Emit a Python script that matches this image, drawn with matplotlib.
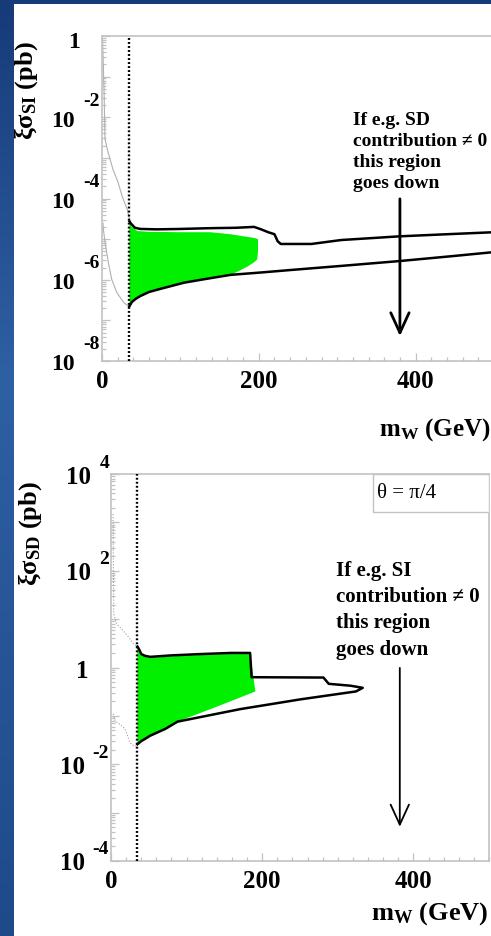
import numpy as np
import matplotlib
matplotlib.use("Agg")
import matplotlib.pyplot as plt
from matplotlib.patches import Rectangle
from matplotlib.ticker import LogLocator, MultipleLocator, NullFormatter

plt.rcParams['font.family'] = ['Liberation Serif', 'DejaVu Serif']
plt.rcParams['font.weight'] = 'bold'
plt.rcParams['axes.labelweight'] = 'bold'
plt.rcParams['mathtext.fontset'] = 'custom'
plt.rcParams['mathtext.rm'] = 'Liberation Serif:bold'
plt.rcParams['mathtext.bf'] = 'Liberation Serif:bold'
plt.rcParams['mathtext.it'] = 'Liberation Serif:italic:bold'

# ---- spin-independent panel (xi*sigma_SI in pb vs m_W in GeV) ----
si_upper_m = [35, 37, 42, 49, 70, 100, 138, 170, 194, 203, 212, 220, 224, 228, 267, 305, 379, 440, 500]
si_upper_pb = [2.75e-5, 2.4e-5, 1.9e-5, 1.78e-5, 1.74e-5, 1.78e-5, 1.86e-5, 1.9e-5, 2.0e-5, 1.74e-5,
               1.48e-5, 1.32e-5, 8.9e-6, 7.6e-6, 7.6e-6, 9.5e-6, 1.17e-5, 1.32e-5, 1.48e-5]
si_lower_m = [35, 38, 43, 49, 60, 75, 87, 105, 129, 164, 203, 241, 305, 379, 446, 500]
si_lower_pb = [2.24e-7, 2.82e-7, 3.39e-7, 3.98e-7, 5.0e-7, 6.0e-7, 6.9e-7, 8.5e-7, 1.02e-6, 1.32e-6,
               1.51e-6, 1.74e-6, 2.19e-6, 2.88e-6, 3.8e-6, 4.8e-6]
# green region: top edge and right edge, closed along the lower curve
si_green_m = [35, 38, 45, 60, 100, 138, 164, 181, 194, 199, 199, 198, 194, 186, 175, 164]
si_green_pb = [2.5e-5, 2.0e-5, 1.58e-5, 1.51e-5, 1.48e-5, 1.48e-5, 1.32e-5, 1.17e-5, 1.07e-5, 1.0e-5,
               5.0e-6, 3.16e-6, 2.69e-6, 2.14e-6, 1.66e-6, 1.32e-6]
# continuation below the cut (thin gray)
si_gray_up_m = [0.6, 2.6, 3.8, 7.7, 14, 20.5, 25.6, 32, 35]
si_gray_up_pb = [0.85, 0.05, 2.9e-3, 1.38e-3, 5.2e-4, 2.5e-4, 1.15e-4, 5.5e-5, 3.16e-5]
si_gray_lo_m = [1.2, 1.7, 3.8, 8, 12.4, 18.8, 27.3, 33.7, 35]
si_gray_lo_pb = [2.5e-5, 1.78e-5, 8.5e-6, 2.7e-6, 1.02e-6, 4.9e-7, 2.8e-7, 2.24e-7, 2.24e-7]

# ---- spin-dependent panel ----
sd_upper_m = [35, 37, 40, 45, 52, 80, 120, 160, 184, 186, 281, 288, 317, 333]
sd_upper_pb = [2.7, 2.4, 1.9, 1.74, 1.66, 1.78, 1.9, 2.0, 2.0, 0.63, 0.62, 0.46, 0.42, 0.38]
sd_lower_m = [333, 324, 251, 171, 88, 72, 52, 40, 35]
sd_lower_pb = [0.38, 0.32, 0.22, 0.138, 0.076, 0.054, 0.039, 0.030, 0.026]
sd_green_m = [35, 37, 40, 45, 52, 80, 120, 160, 184, 191, 140, 88, 72, 52, 40, 35]
sd_green_pb = [2.5, 2.3, 1.86, 1.66, 1.58, 1.7, 1.82, 1.9, 1.9, 0.32, 0.155, 0.076, 0.054, 0.039, 0.030, 0.026]
sd_gray_up_m = [2.7, 3.3, 3.6, 7.5, 14, 23, 29.6, 35]
sd_gray_up_pb = [1480, 68, 12.9, 7.9, 6.3, 4.3, 3.1, 2.7]
sd_gray_lo_m = [3, 5.3, 12, 18.6, 25, 30, 35]
sd_gray_lo_pb = [0.11, 0.079, 0.066, 0.054, 0.028, 0.024, 0.024]

m_cut = 35
si_exps = [0, -2, -4, -6, -8]
sd_exps = [4, 2, 0, -2, -4]

GRAY = '#c2c2c2'
GREEN = '#00f000'

W, H = 491, 937
fig = plt.figure(figsize=(W / 100, H / 100), dpi=100)

# slide background: blue gradient with a white sheet on top
rows = np.linspace(0, 1, H)[:, None]
top_c = np.array([0x17, 0x3a, 0x78]) / 255
mid_c = np.array([0x2e, 0x60, 0xa4]) / 255
bot_c = np.array([0x1e, 0x4a, 0x8a]) / 255
grad = np.where(rows < 0.4, top_c + (mid_c - top_c) * rows / 0.4,
                mid_c + (bot_c - mid_c) * (rows - 0.4) / 0.6)
bg = np.repeat(grad[:, None, :], W, axis=1)
fig.figimage(bg, 0, 0, zorder=-2, origin='upper')
fig.add_artist(Rectangle((14 / W, 0), 1 - 14 / W, (H - 5) / H, transform=fig.transFigure,
                         facecolor='white', edgecolor='none', zorder=-1))

ax1 = fig.add_axes([102 / W, 1 - 362 / H, 392 / W, 325 / H])
ax2 = fig.add_axes([111 / W, 1 - 862 / H, 378 / W, 387 / H])


def style_axes(ax, ylim):
    ax.set_yscale('log')
    ax.set_xlim(0, 500)
    ax.set_ylim(*ylim)
    ax.set_facecolor('white')
    for s in ax.spines.values():
        s.set_color(GRAY)
        s.set_linewidth(1.2)
    ax.xaxis.set_major_locator(MultipleLocator(200))
    ax.xaxis.set_minor_locator(MultipleLocator(20))
    ax.yaxis.set_major_locator(LogLocator(base=10, numticks=20))
    ax.yaxis.set_minor_locator(LogLocator(base=10, subs=np.arange(2, 10), numticks=20))
    ax.yaxis.set_major_formatter(NullFormatter())
    ax.yaxis.set_minor_formatter(NullFormatter())
    ax.tick_params(which='both', direction='in', color=GRAY, width=0.9, top=False, right=False)
    ax.tick_params(which='major', length=6)
    ax.tick_params(which='minor', length=3)
    ax.tick_params(axis='x', labelsize=18, pad=6)


def log_labels(ax, exps, one_off, exp_dy, ten_dy, gap, ten_size, exp_size):
    for e in exps:
        if e == 0:
            ax.annotate('1', xy=(0, 1.0), xycoords=('axes fraction', 'data'), xytext=one_off,
                        textcoords='offset pixels', ha='right', va='center', fontsize=ten_size,
                        annotation_clip=False)
            continue
        t = ax.annotate(str(e), xy=(0, 10.0 ** e), xycoords=('axes fraction', 'data'),
                        xytext=(-2, exp_dy), textcoords='offset pixels', ha='right', va='center',
                        fontsize=exp_size, annotation_clip=False)
        ax.annotate('10', xy=(0, 0.5), xycoords=t, xytext=(-gap, ten_dy - exp_dy),
                    textcoords='offset pixels', ha='right', va='center', fontsize=ten_size,
                    annotation_clip=False)


# ---------------- top panel ----------------
style_axes(ax1, (1e-8, 1))
ax1.plot(si_gray_up_m, si_gray_up_pb, color='#b0b0b0', lw=0.8)
ax1.plot(si_gray_lo_m, si_gray_lo_pb, color='#b0b0b0', lw=0.8)
low_back = [(m, v) for m, v in zip(si_lower_m, si_lower_pb) if m < si_green_m[-1]][::-1]
ax1.fill(si_green_m + [p[0] for p in low_back], si_green_pb + [p[1] for p in low_back],
         color=GREEN, lw=0, zorder=2)
ax1.plot(si_upper_m, si_upper_pb, color='black', lw=1.8, zorder=3)
ax1.plot(si_lower_m, si_lower_pb, color='black', lw=1.8, zorder=3)
ax1.axvline(m_cut, color='black', lw=1.7, ls=(0, (0.8, 0.9)), zorder=4)

ax1.text(320, 1.4e-2, 'If e.g. SD\ncontribution \u2260 0\nthis region\ngoes down',
         fontsize=14, ha='left', va='top', linespacing=1.3)
ax1.annotate('', xy=(380, 4.1e-8), xytext=(380, 9.8e-5),
             arrowprops=dict(arrowstyle='->,head_length=1.2,head_width=0.55', lw=2.0,
                             color='black', shrinkA=0, shrinkB=0, mutation_scale=12))

log_labels(ax1, si_exps, (-22, -6), 17, -3, 9, 17, 14)
ax1.set_ylabel(r'$\mathrm{\xi\sigma_{SI}}$ (pb)', fontsize=19, rotation=90, va='center', ha='center')
ax1.yaxis.set_label_coords(-0.193, 0.835)
ax1.set_xlabel(r'$\mathrm{m_W}$ (GeV)', fontsize=18, ha='right', va='center')
ax1.xaxis.set_label_coords(0.99, -0.209)

# ---------------- bottom panel ----------------
style_axes(ax2, (1e-4, 1e4))
ax2.plot(sd_gray_up_m, sd_gray_up_pb, color='#a0a0a0', lw=0.8, ls=':')
ax2.plot(sd_gray_lo_m, sd_gray_lo_pb, color='#a0a0a0', lw=0.8, ls=':')
ax2.fill(sd_green_m, sd_green_pb, color=GREEN, lw=0, zorder=2)
ax2.plot(sd_upper_m + sd_lower_m, sd_upper_pb + sd_lower_pb, color='black', lw=1.8, zorder=3)
ax2.axvline(m_cut, color='black', lw=1.7, ls=(0, (0.8, 0.9)), zorder=4)

ax2.text(297, 170, 'If e.g. SI\ncontribution \u2260 0\nthis region\ngoes down',
         fontsize=15, ha='left', va='top', linespacing=1.42)
ax2.annotate('', xy=(382, 5.1e-4), xytext=(382, 0.98),
             arrowprops=dict(arrowstyle='->,head_length=1.2,head_width=0.55', lw=1.3,
                             color='black', shrinkA=0, shrinkB=0, mutation_scale=12))

ax2.add_patch(Rectangle((0.693, 0.902), 0.307, 0.098, transform=ax2.transAxes,
                        facecolor='white', edgecolor=GRAY, lw=1.0, zorder=5))
ax2.text(0.705, 0.951, '\u03b8 = \u03c0/4', transform=ax2.transAxes, fontsize=15,
         fontweight='normal', ha='left', va='center', zorder=6)

log_labels(ax2, sd_exps, (-23, -3), 12, -2, 8, 18, 14)
ax2.set_ylabel(r'$\mathrm{\xi\sigma_{SD}}$ (pb)', fontsize=19, rotation=90, va='center', ha='center')
ax2.yaxis.set_label_coords(-0.214, 0.848)
ax2.set_xlabel(r'$\mathrm{m_W}$ (GeV)', fontsize=19, ha='right', va='center')
ax2.xaxis.set_label_coords(1.0, -0.132)

fig.savefig('out.png', dpi=100)
